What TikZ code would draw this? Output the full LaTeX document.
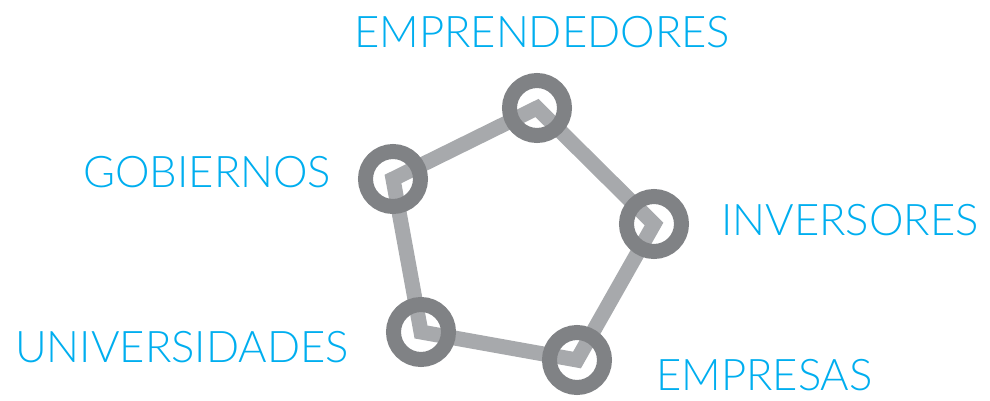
\documentclass[tikz,border=0pt]{standalone}
\usepackage{fontspec}
\setmainfont{Lato Light}
\usepackage{xcolor}
\usepackage{tikz}

\definecolor{linegray}{HTML}{A7A9AC}
\definecolor{ringgray}{HTML}{808285}
\definecolor{labelblue}{HTML}{00AEEF}

\begin{document}
\begin{tikzpicture}[x=1pt, y=-1pt,
    ring/.style={circle, draw=ringgray, line width=15pt, minimum size=55pt, inner sep=0pt},
    label/.style={anchor=base west, inner sep=0pt, text depth=0pt, text=labelblue, font=\fontsize{43.6}{44}\selectfont}]
    \useasboundingbox (0,0) rectangle (990,400);
    % vertices
    \coordinate (emprendedores) at (537,108);
    \coordinate (inversores) at (654,224);
    \coordinate (empresas) at (577,360);
    \coordinate (universidades) at (421,332);
    \coordinate (gobiernos) at (393,179);
    \draw[linegray, line width=15pt, miter limit=4]
        (emprendedores) -- (inversores) -- (empresas) -- (universidades) -- (gobiernos) -- cycle;
    \foreach \v in {emprendedores, inversores, empresas, universidades, gobiernos}
        \node[ring] (\v-ring) at (\v) {};
    % labels
    \node[label] (emprendedores-text) at (354,47) {EMPRENDEDORES};
    \node[label] (gobiernos-text) at (83,187) {GOBIERNOS};
    \node[label] (inversores-text) at (721,235) {INVERSORES};
    \node[label] (universidades-text) at (15,362) {UNIVERSIDADES};
    \node[label] (empresas-text) at (656,390) {EMPRESAS};
\end{tikzpicture}
\end{document}
